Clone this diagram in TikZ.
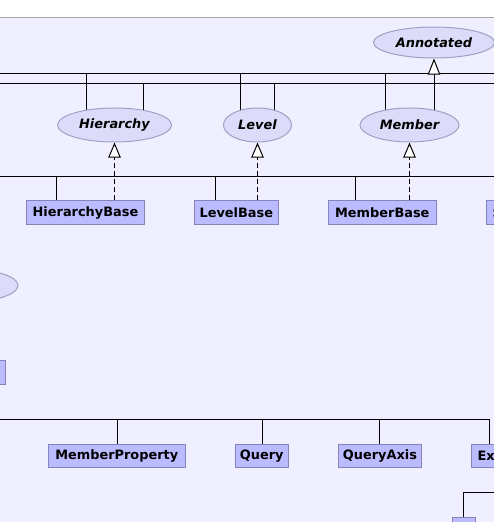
\documentclass[tikz,border=0pt]{standalone}
\usepackage{fontspec}
\setmainfont{DejaVu Sans}
\usetikzlibrary{arrows.meta,backgrounds,shapes.geometric}
\definecolor{bgc}{HTML}{EFEFFF}
\definecolor{boxfill}{HTML}{BBBBFF}
\definecolor{boxline}{HTML}{8484B8}
\definecolor{ellfill}{HTML}{DCDCFA}
\definecolor{ellline}{HTML}{A0A0C4}
\definecolor{topline}{HTML}{A8A8A8}
\begin{document}
\begin{tikzpicture}[x=1pt,y=-1pt,
  cls/.style={rectangle,draw=boxline,fill=boxfill,line width=1pt,minimum height=23.4pt,inner sep=0pt,font=\fontsize{12.9}{15}\selectfont\bfseries},
  ifc/.style={ellipse,draw=ellline,fill=ellfill,line width=1pt,inner sep=0pt,font=\fontsize{12.9}{15}\selectfont\bfseries\itshape},
  bus/.style={draw=black,line width=1pt},
  ext/.style={draw=black,line width=1pt,-{Triangle[length=16pt,width=12.4pt,fill=white,line width=1pt]}},
  impl/.style={draw=black,line width=1pt,dash pattern=on 5pt off 3pt,-{Triangle[length=15pt,width=12.4pt,fill=white,line width=1pt]}}]
\useasboundingbox (0,0) rectangle (494,522);
\clip (0,0) rectangle (494,522);

% interfaces
\node[ifc,minimum width=121pt,minimum height=31pt] (annot) at (434,42.5) {Annotated};
\node[ifc,minimum width=114pt,minimum height=34pt] (hier) at (114.5,125) {Hierarchy};
\node[ifc,minimum width=68pt,minimum height=34pt] (lev) at (257.5,125) {Level};
\node[ifc,minimum width=99pt,minimum height=34pt] (mem) at (409.5,125) {Member};
\node[ifc,minimum width=112pt,minimum height=34pt] (leftell) at (-38,285.5) {};

% classes
\node[cls,minimum width=117.6pt] (hb) at (85.5,212.5) {HierarchyBase};
\node[cls,minimum width=84pt] (lb) at (236.3,212.5) {LevelBase};
\node[cls,minimum width=108pt] (mb) at (382.3,212.5) {MemberBase};
\node[cls,anchor=west,inner xsep=6pt] (sb) at (486,212.5) {\makebox[68pt][l]{S}};
\node[cls,anchor=east,minimum width=60pt] (lbox) at (5.7,372.5) {};
\node[cls,minimum width=137pt] (mp) at (116.8,456) {MemberProperty};
\node[cls,minimum width=53pt] (qu) at (261.8,456) {Query};
\node[cls,minimum width=83.4pt] (qa) at (380,456) {QueryAxis};
\node[cls,anchor=west,inner xsep=6pt] (ex) at (471,456) {\makebox[60pt][l]{Ex}};
\node[cls,anchor=north,minimum width=23.5pt] (bot) at (463.75,517) {};

\begin{pgfonlayer}{background}
  \fill[white] (0,0) rectangle (494,522);
  \fill[bgc] (0,17.3) rectangle (494,522);
  \draw[topline,line width=1pt] (0,17.3) -- (494,17.3);

  % upper buses
  \coordinate (b1L) at (-5,73.3);  \coordinate (b1R) at (500,73.3);
  \coordinate (b2L) at (-5,83.3);  \coordinate (b2R) at (500,83.3);
  \draw[bus] (b1L) -- (b1R);
  \draw[bus] (b2L) -- (b2R);
  \coordinate (h1) at (86.3,73.3);  \coordinate (h2) at (143.3,83.3);
  \coordinate (l1) at (240.3,73.3); \coordinate (l2) at (274.3,83.3);
  \coordinate (m1) at (385.7,73.3);
  \draw[bus] (h1) -- (h1 |- hier.center);
  \draw[bus] (h2) -- (h2 |- hier.center);
  \draw[bus] (l1) -- (l1 |- lev.center);
  \draw[bus] (l2) -- (l2 |- lev.center);
  \draw[bus] (m1) -- (m1 |- mem.center);
  \draw[ext] (annot.south |- mem.center) -- (annot.south);

  % realisations
  \draw[impl] (hier.south |- hb.north) -- (hier.south);
  \draw[impl] (lev.south |- lb.north) -- (lev.south);
  \draw[impl] (mem.south |- mb.north) -- (mem.south);

  % middle bus
  \coordinate (b3L) at (-5,176.7); \coordinate (b3R) at (500,176.7);
  \draw[bus] (b3L) -- (b3R);
  \coordinate (d1) at (56.7,176.7); \coordinate (d2) at (215.3,176.7); \coordinate (d3) at (355.3,176.7);
  \draw[bus] (d1) -- (d1 |- hb.center);
  \draw[bus] (d2) -- (d2 |- lb.center);
  \draw[bus] (d3) -- (d3 |- mb.center);

  % lower bus
  \coordinate (b4L) at (-5,419.3); \coordinate (c4) at (489.3,419.3);
  \draw[bus] (b4L) -- (c4) -- (c4 |- ex.center);
  \coordinate (e1) at (117.3,419.3); \coordinate (e2) at (262.3,419.3); \coordinate (e3) at (379.3,419.3);
  \draw[bus] (e1) -- (e1 |- mp.center);
  \draw[bus] (e2) -- (e2 |- qu.center);
  \draw[bus] (e3) -- (e3 |- qa.center);

  % bottom bus
  \coordinate (b5R) at (500,492.3); \coordinate (c5) at (463.3,492.3);
  \draw[bus] (b5R) -- (c5) -- (c5 |- bot.center);
\end{pgfonlayer}
\end{tikzpicture}
\end{document}
